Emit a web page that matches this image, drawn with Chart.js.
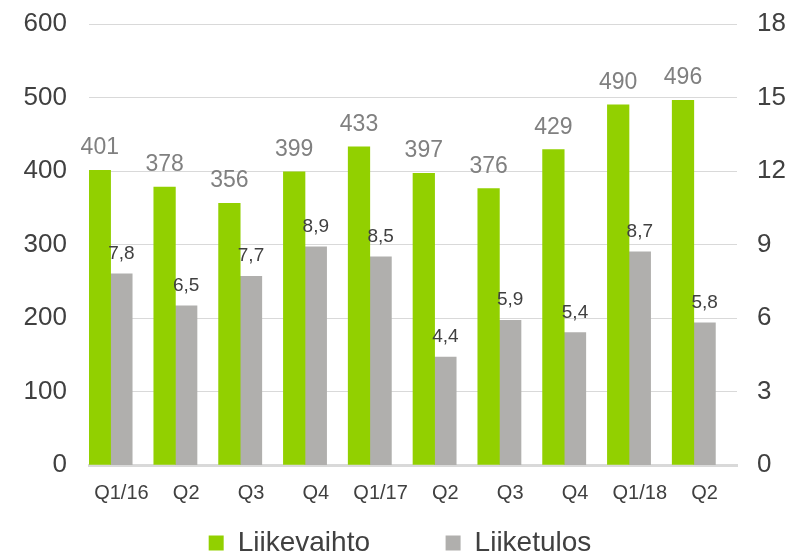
<!DOCTYPE html>
<html>
<head>
<meta charset="utf-8">
<script src="https://cdn.jsdelivr.net/npm/chart.js@4/dist/chart.umd.min.js"></script>
<style>
  html, body { margin: 0; padding: 0; background: #fff; }
  #wrap { width: 800px; height: 553px; }
</style>
</head>
<body>
<div id="wrap"><canvas id="myChart"></canvas></div>
<script>
// quarters
const quarters = ["Q1/16", "Q2", "Q3", "Q4", "Q1/17", "Q2", "Q3", "Q4", "Q1/18", "Q2"];
// Liikevaihto, left axis
const liikevaihto = [401, 378, 356, 399, 433, 397, 376, 429, 490, 496];
// Liiketulos, right axis
const liiketulos = [7.8, 6.5, 7.7, 8.9, 8.5, 4.4, 5.9, 5.4, 8.7, 5.8];
// empty slot so the pair of bars sits left in each category
const spacer = quarters.map(() => null);

const leftTicks = [0, 100, 200, 300, 400, 500, 600];
const rightTicks = [0, 3, 6, 9, 12, 15, 18];

const FONT = "'Liberation Sans', Arial, sans-serif";

// draws the value above each bar
const valueLabels = {
    id: "valueLabels",
    afterDatasetsDraw(chart) {
        const ctx = chart.ctx;
        ctx.save();
        ctx.textAlign = "center";
        ctx.textBaseline = "alphabetic";
        chart.data.datasets.forEach((ds, i) => {
            if (!ds.showValues) return;
            const meta = chart.getDatasetMeta(i);
            meta.data.forEach((bar, j) => {
                const v = ds.data[j];
                if (v == null) return;
                ctx.fillStyle = ds.valueColor;
                ctx.font = ds.valueFont + "px " + FONT;
                let txt = ds.decimals ? v.toFixed(1).replace(".", ",") : String(v);
                ctx.fillText(txt, bar.x, bar.y - ds.valueGap);
            });
        });
        ctx.restore();
    }
};

// fixed axis box so the plot area lands where the original has it
function fitY(width) {
    return (axis) => {
        axis.width = width;
        axis.paddingTop = 24;
        axis.paddingBottom = 0;
    };
}

new Chart("myChart", {
    type: "bar",
    data: {
        labels: quarters,
        datasets: [{
            label: "Liikevaihto",
            data: liikevaihto,
            backgroundColor: "#92d000",
            yAxisID: "y",
            showValues: true,
            valueColor: "#808080",
            valueFont: 23,
            valueGap: 16,
            decimals: false
        }, {
            label: "Liiketulos",
            data: liiketulos,
            backgroundColor: "#b0afad",
            yAxisID: "y1",
            showValues: true,
            valueColor: "#404040",
            valueFont: 19,
            valueGap: 15,
            decimals: true
        }, {
            label: "",
            data: spacer,
            backgroundColor: "rgba(0,0,0,0)",
            yAxisID: "y"
        }]
    },
    options: {
        responsive: true,
        maintainAspectRatio: false,
        animation: false,
        categoryPercentage: 1.0,
        barPercentage: 1.0,
        layout: { padding: { left: 0, right: 0, top: 0, bottom: -14 } },
        plugins: {
            tooltip: { enabled: false },
            legend: {
                position: "bottom",
                labels: {
                    font: { family: FONT, size: 28 },
                    color: "#404040",
                    boxWidth: 15,
                    boxHeight: 15,
                    padding: 0,
                    generateLabels: (chart) => {
                        const items = Chart.defaults.plugins.legend.labels.generateLabels(chart)
                            .filter(item => item.text !== "");
                        // wider gap after the first item
                        items[0].text = items[0].text + "\u2002\u2002\u2002\u2002\u2002\u2009";
                        items.forEach(item => { item.lineWidth = 0; });
                        return items;
                    }
                }
            }
        },
        scales: {
            x: {
                afterFit: (axis) => { axis.height = 64; },
                grid: { display: false, drawTicks: false },
                border: { color: "#d9d9d9", width: 3 },
                ticks: {
                    font: { family: FONT, size: 20 },
                    color: "#404040",
                    padding: 16,
                    maxRotation: 0,
                    autoSkip: false
                }
            },
            y: {
                position: "left",
                min: 0,
                max: 600,
                afterBuildTicks: (axis) => { axis.ticks = leftTicks.map(v => ({ value: v })); },
                afterFit: fitY(89),
                grid: { color: "#d9d9d9", lineWidth: 1, drawTicks: false },
                border: { display: false },
                ticks: {
                    font: { family: FONT, size: 26 },
                    color: "#404040",
                    padding: 22
                }
            },
            y1: {
                position: "right",
                min: 0,
                max: 18,
                afterBuildTicks: (axis) => { axis.ticks = rightTicks.map(v => ({ value: v })); },
                afterFit: fitY(63),
                grid: { display: false, drawTicks: false },
                border: { display: false },
                ticks: {
                    font: { family: FONT, size: 26 },
                    color: "#404040",
                    padding: 20
                }
            }
        }
    },
    plugins: [valueLabels]
});
</script>
</body>
</html>
